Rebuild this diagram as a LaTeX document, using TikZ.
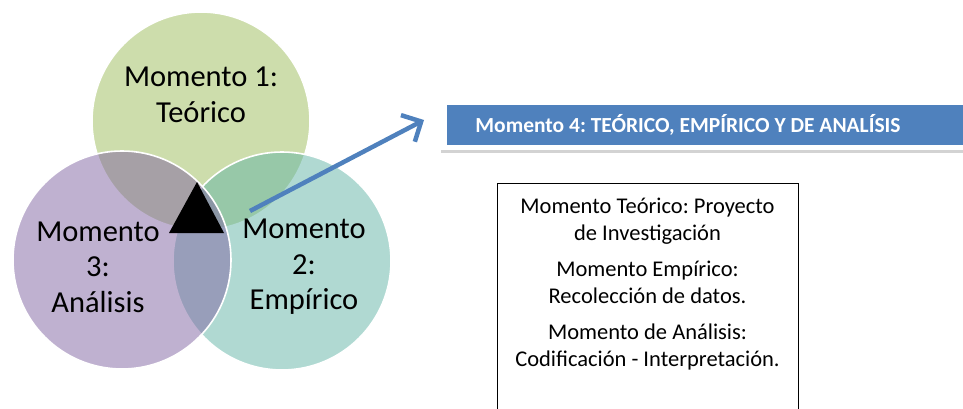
\documentclass[tikz,border=0pt]{standalone}
\usepackage{fontspec}
\setmainfont{Carlito}
\usetikzlibrary{arrows.meta,shadows}
\definecolor{cgreen}{RGB}{155,187,89}
\definecolor{cpurple}{RGB}{128,100,162}
\definecolor{cteal}{RGB}{98,180,166}
\definecolor{cblue}{RGB}{79,129,189}
\tikzset{
  venn/.style={circle, minimum size=218pt, inner sep=0pt, fill opacity=0.5, draw=white, line width=1.6pt, draw opacity=1},
  vlabel/.style={font=\frenchspacing\fontsize{30.5}{35.5}\selectfont, align=center, text=black, inner sep=0pt},
  banner/.style={text=white, font=\frenchspacing\bfseries\fontsize{21.5}{24}\selectfont, inner sep=0pt},
  infobox/.style={draw=black, line width=0.8pt, fill=white},
  infotext/.style={font=\frenchspacing\fontsize{22.5}{26.5}\selectfont, align=center, inner sep=0pt},
  bluearrow/.style={draw=cblue, line width=4.5pt, -{Straight Barb[length=15pt,width=30pt,line width=4.5pt]}}
}
\begin{document}
\begin{tikzpicture}[x=1pt,y=-1pt]
\useasboundingbox (0,0) rectangle (963,409);
\clip (0,0) rectangle (963,409);
% circles
\node[venn, fill=cgreen] (c1) at (201,121) {};
\node[venn, fill=cteal] (c2) at (282,261) {};
\node[venn, fill=cpurple] (c3) at (122,260) {};
% triangle
\fill[black] (197,182) -- (169,233) -- (224,233) -- cycle;
% circle labels
\node[vlabel] (t1) at (201,95) {Momento 1:\\Teórico};
\node[vlabel] (t2) at (304,267) {Momento\\2:\\Empírico};
\node[vlabel] (t3) at (98,267) {Momento\\3:\\Análisis};
% banner
\node[fill=white, minimum width=560pt, minimum height=50pt, inner sep=0pt,
      drop shadow={shadow xshift=1pt, shadow yshift=-2.5pt, opacity=0.35}] (frame) at (720,125) {};
\node[fill=cblue, minimum width=540pt, minimum height=40pt, inner sep=0pt] (blue) at (717,125) {};
\node[banner] (m4) at (688,125) {Momento 4: TEÓRICO, EMPÍRICO Y DE ANALÍSIS};
% arrow
\coordinate (as) at (250,211);
\coordinate (ae) at (424,120);
\draw[bluearrow] (as) -- (ae);
% info box
\draw[infobox] (497,183) rectangle (798,440);
\node[infotext] (info) at (647.5,284) {Momento Teórico: Proyecto\\de Investigación\\[10pt]Momento Empírico:\\Recolección de datos.\\[10pt]Momento de Análisis:\\Codificación - Interpretación.};
\end{tikzpicture}
\end{document}
